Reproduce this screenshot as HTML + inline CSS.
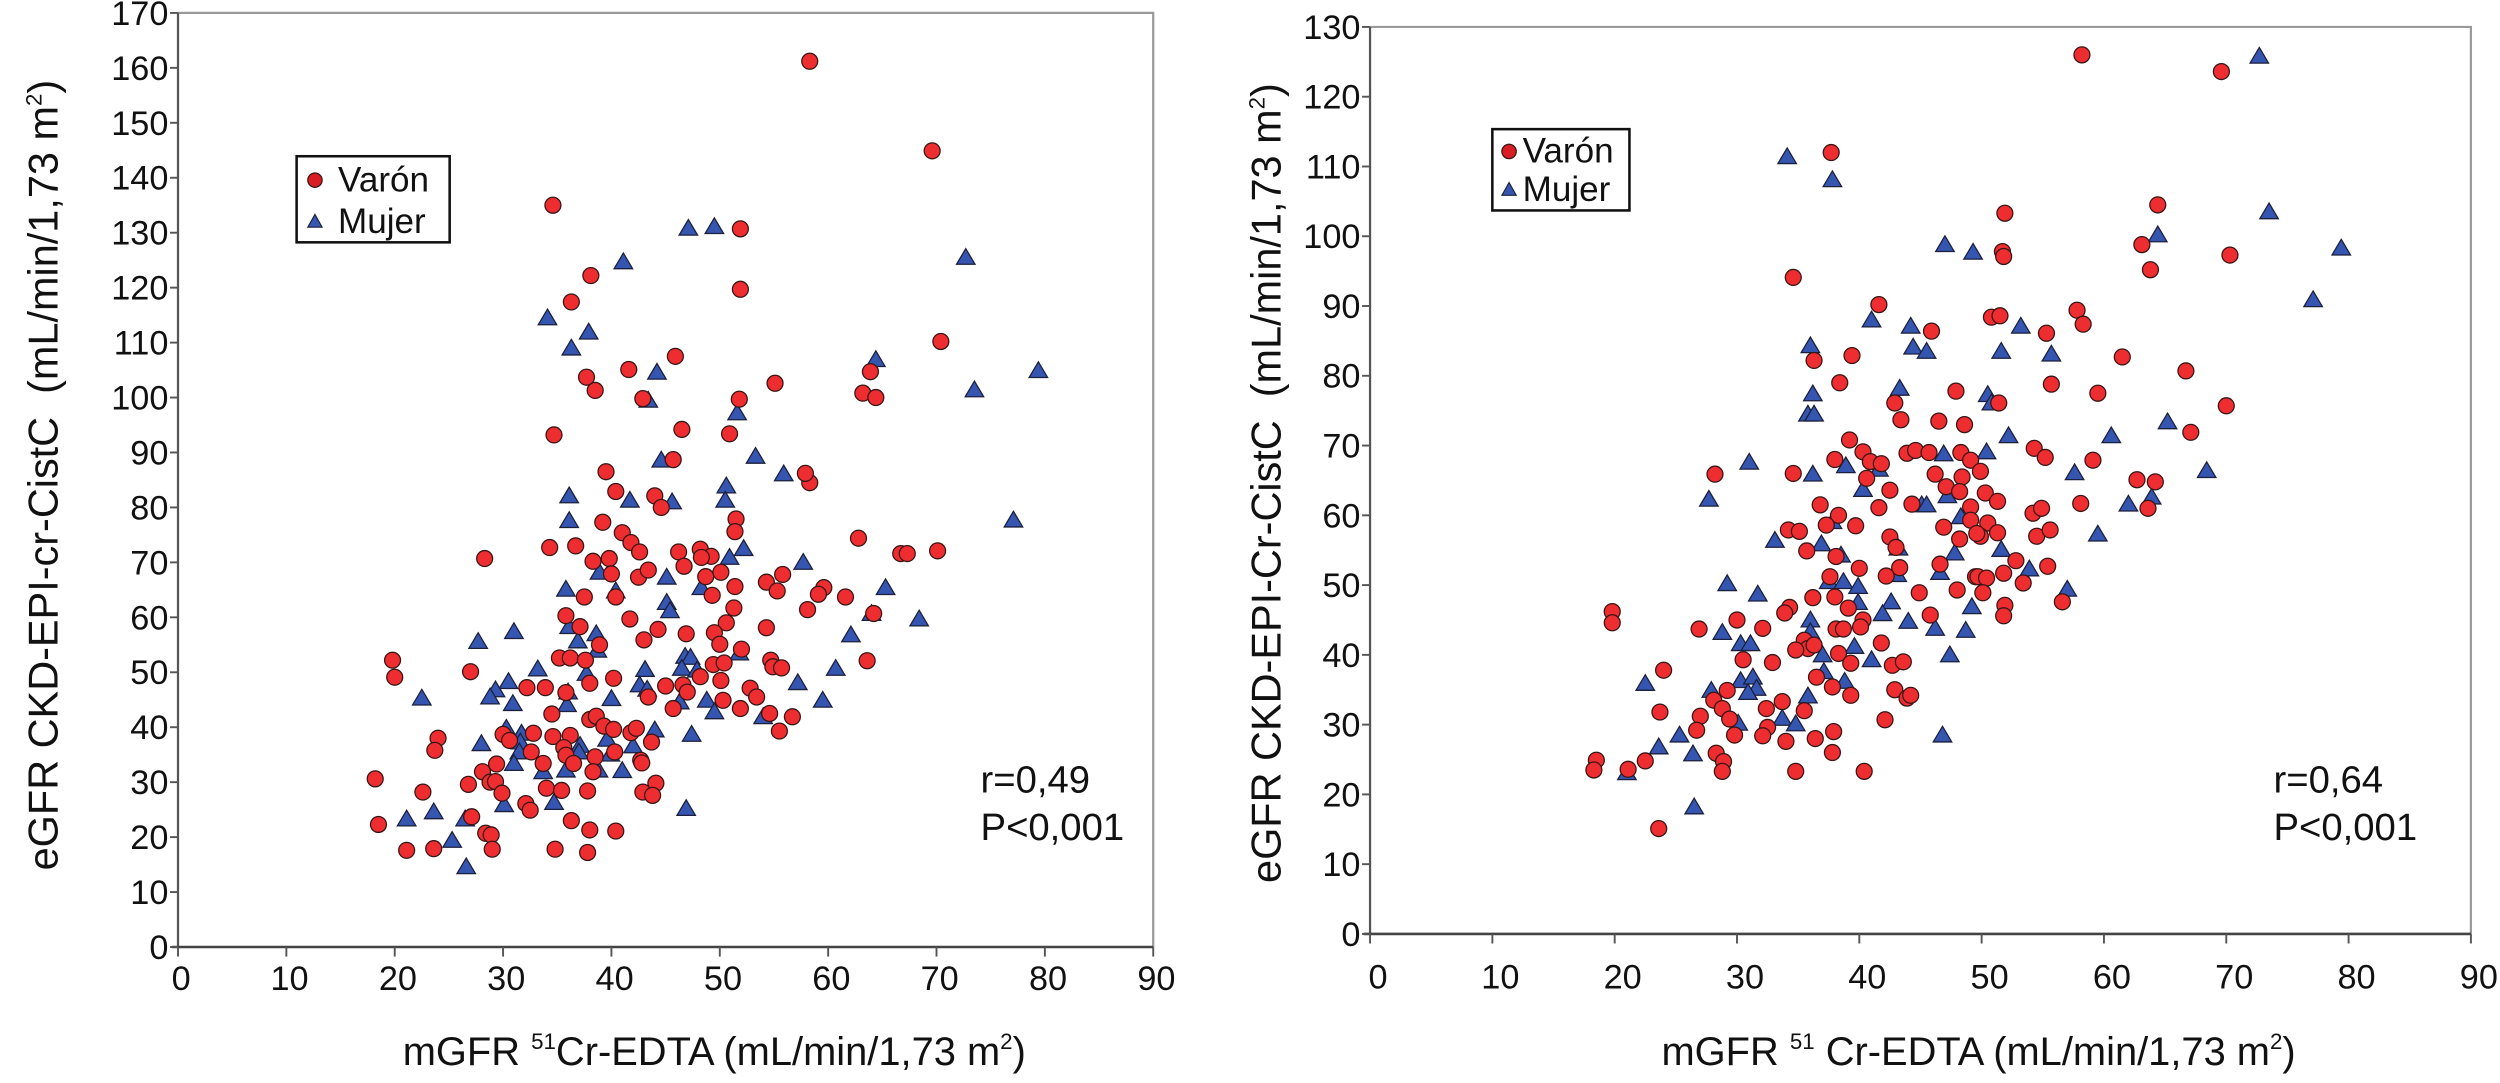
<!DOCTYPE html>
<html><head><meta charset="utf-8"><style>
html,body{margin:0;padding:0;background:#fff;}
svg{display:block;}
text{font-family:"Liberation Sans",sans-serif;fill:#111;}
</style></head><body>
<svg id="fig" width="2500" height="1083" viewBox="0 0 1568 679.3" xmlns="http://www.w3.org/2000/svg">
<rect x="0" y="0" width="1568" height="680" fill="#fff"/>
<g id="left"></g>
<g id="right"></g>
</svg>
<script>
const xTicks = [0,10,20,30,40,50,60,70,80,90];
const leftYTicks = [0,10,20,30,40,50,60,70,80,90,100,110,120,130,140,150,160,170];
const rightYTicks = [0,10,20,30,40,50,60,70,80,90,100,110,120,130];

const leftMenX = [34.6,51.9,38.1,51.9,36.3,45.9,41.6,37.7,38.5,42.9,51.8,55.1,34.7,46.5,50.9,45.7,58.3,69.6,70.4,63.9,63.2,64.4,
39.5,40.4,44.0,44.6,39.2,51.5,51.4,41.0,41.8,42.6,34.3,36.7,28.3,38.3,39.8,40.0,42.5,43.4,46.2,46.7,48.2,49.2,48.3,50.1,48.7,49.3,51.4,54.3,37.5,40.4,51.3,35.8,37.1,41.7,44.3,43.0,46.9,50.6,49.5,50.0,54.3,38.9,52.0,35.2,36.2,37.6,54.7,19.8,20.0,27.0,38.0,40.2,49.4,50.4,48.2,50.1,32.2,33.9,35.8,45.0,46.6,47.0,43.4,45.7,50.3,51.9,52.8,53.4,
34.5,38.0,38.6,39.3,40.2,41.8,42.3,43.7,32.8,30.0,30.6,34.6,36.2,35.6,32.6,35.8,36.5,38.5,40.3,42.7,42.8,38.3,33.7,24.0,23.7,29.4,28.1,28.8,29.3,29.9,26.8,18.2,22.6,34.0,35.4,37.8,44.1,42.9,43.8,32.1,32.5,27.1,18.5,36.3,38.0,40.4,28.4,28.9,29.0,21.1,23.6,34.8,37.8,
58.3,57.9,62.8,66.7,67.3,70.1,55.8,55.3,59.6,59.1,61.6,58.1,64.2,63.6,54.9,55.7,56.7,55.5,54.6];
const leftMenY = [135.0,130.7,122.2,119.7,117.4,107.5,105.1,103.7,101.3,99.8,99.7,102.6,93.2,94.2,93.4,88.7,161.2,144.9,110.2,104.7,100.8,100.0,
86.5,82.9,82.1,80.0,77.3,77.9,75.6,75.4,73.6,71.9,72.7,73.0,70.7,70.2,70.7,67.9,67.3,68.6,71.9,69.3,72.4,71.1,70.9,68.2,67.4,64.0,65.6,66.4,63.7,63.7,61.7,60.3,58.3,59.7,57.8,55.9,57.0,59.0,57.2,55.1,58.1,55.0,54.2,52.6,52.6,52.2,52.2,52.2,49.1,50.1,48.0,48.9,51.4,51.7,49.2,48.5,47.2,47.2,46.3,47.5,47.7,46.4,45.5,43.4,44.9,43.4,47.1,45.5,
42.4,41.4,42.0,40.2,39.6,39.0,39.8,37.3,38.9,38.7,37.6,38.3,38.5,36.3,35.5,34.9,33.4,34.6,35.5,34.0,33.5,31.9,33.4,38.0,35.8,33.3,31.9,30.0,30.1,28.0,29.6,30.6,28.2,28.9,28.5,28.4,29.8,28.2,27.6,26.1,24.9,23.7,22.3,23.0,21.3,21.1,20.7,20.4,17.8,17.6,17.9,17.8,17.2,
84.5,86.2,74.4,71.6,71.6,72.1,67.8,64.8,65.4,64.2,63.7,61.4,60.7,52.1,51.0,50.8,41.9,39.3,42.5];

const leftWomenX = [47.1,49.5,41.1,34.1,37.9,36.3,44.2,43.4,51.6,53.3,44.6,72.7,64.4,79.4,73.5,
36.1,41.7,45.6,50.6,50.5,36.1,52.2,50.9,38.9,45.1,48.3,35.8,40.4,45.1,45.4,36.1,36.9,38.6,38.7,31.0,27.7,51.8,46.8,47.3,46.5,47.9,33.2,37.7,43.1,30.5,29.3,28.8,30.9,22.5,36.0,35.9,42.6,43.3,40.0,46.3,48.8,49.5,54.0,30.3,31.7,31.6,31.5,28.0,31.0,33.7,35.8,37.1,37.0,39.6,39.9,38.8,41.0,42.0,44.0,47.4,30.1,34.7,46.9,23.6,21.1,26.5,25.3,26.6,
77.1,57.7,65.3,64.0,68.4,62.1,60.7,57.2,59.5,55.9];
const leftWomenY = [130.8,131.1,124.7,114.5,111.9,109.0,104.6,99.5,97.2,89.3,88.6,125.5,106.9,104.9,101.4,
82.1,81.3,81.0,83.9,81.3,77.6,72.5,70.9,68.2,67.3,65.4,65.1,64.8,62.7,61.2,58.3,55.7,57.0,54.0,57.4,55.6,53.5,52.9,52.7,50.7,50.4,50.6,49.8,50.5,48.3,46.8,45.5,44.3,45.3,46.4,44.1,47.7,46.9,45.2,44.6,44.9,42.8,41.9,39.8,38.9,37.3,35.5,37.0,33.4,31.9,32.2,36.7,35.5,37.8,35.1,32.2,32.1,36.6,39.5,38.7,25.9,26.3,25.2,24.6,23.3,23.3,19.4,14.6,
77.7,70.0,65.4,60.7,59.7,56.8,50.7,48.1,44.9,86.1];

const rightMenX = [37.7,34.6,41.6,45.9,39.4,36.3,38.4,47.9,42.9,43.4,46.5,48.6,
58.2,69.6,51.9,64.4,51.7,51.8,63.1,63.8,70.3,50.8,51.5,57.8,58.3,55.3,61.5,66.7,55.7,59.5,51.4,70.0,67.1,
39.2,28.2,34.6,38.0,40.3,40.9,41.8,43.9,44.6,45.7,48.3,49.1,40.6,42.5,46.2,48.4,47.1,48.2,36.8,41.6,44.3,38.3,49.1,49.1,34.2,35.1,37.3,39.7,46.9,48.2,42.5,43.0,35.7,38.1,40.0,43.3,42.2,46.6,49.5,37.6,38.0,36.2,44.9,48.0,34.3,33.9,39.1,40.3,40.1,45.8,19.8,19.8,26.9,30.0,32.1,38.1,38.7,35.5,35.8,34.8,36.3,41.8,30.5,32.9,38.3,39.3,42.7,43.6,24.0,36.5,37.8,39.3,42.9,43.9,44.2,29.2,28.1,28.8,23.7,27.0,26.7,29.4,29.8,32.4,33.7,35.5,32.5,32.1,34.0,36.4,37.9,37.8,42.1,28.3,28.9,28.8,22.5,18.5,18.3,21.1,34.8,40.4,23.6,
54.3,55.2,59.1,49.9,50.3,51.3,62.7,64.2,58.1,63.6,54.2,54.9,50.5,51.3,49.9,49.6,54.5,55.6,52.8,55.4,51.8,49.7,50.4,53.4,50.1,56.6,51.9,51.8];
const rightMenY = [112.0,94.1,90.2,86.4,82.9,82.2,79.0,77.8,76.1,73.7,73.5,73.0,
126.0,123.6,103.3,104.5,97.8,97.1,98.8,95.2,97.3,88.4,88.6,89.4,87.4,86.1,82.7,80.7,78.8,77.5,76.1,75.7,71.9,
70.8,65.9,66.0,68.0,69.1,67.7,67.4,68.9,69.3,69.0,69.0,67.9,65.3,63.6,65.9,65.5,64.1,63.4,61.5,61.1,61.6,60.0,61.2,59.3,57.9,57.7,58.6,58.5,58.3,56.6,56.9,55.4,54.9,54.1,52.4,52.5,51.3,53.0,51.2,51.2,48.3,48.2,48.9,49.3,46.8,46.0,46.7,45.0,44.0,45.7,46.2,44.6,43.7,45.0,43.8,43.7,43.7,42.1,40.9,40.7,41.4,41.7,39.3,38.9,40.2,38.8,38.5,39.0,37.8,36.8,35.4,34.2,35.0,33.8,34.2,34.9,33.5,32.3,31.8,31.2,29.2,30.8,28.5,32.3,33.3,32.0,29.6,28.4,27.6,28.0,29.0,26.0,30.7,25.9,24.7,23.3,24.8,24.9,23.5,23.6,23.3,23.3,15.1,
69.6,68.3,67.9,66.3,63.2,62.0,65.1,64.8,61.7,61.0,60.3,61.0,58.9,57.5,57.0,57.4,57.0,57.9,53.5,52.7,51.7,51.2,51.0,50.3,48.9,47.6,47.1,45.6];

const rightWomenX = [34.1,37.8,47.0,49.3,41.0,44.2,44.4,45.5,36.0,36.2,43.3,35.8,36.3,
72.7,73.5,79.4,77.1,64.4,53.2,51.6,55.7,50.5,50.8,65.2,52.2,60.6,
31.0,36.2,38.9,41.6,46.9,40.3,47.2,27.7,45.1,45.5,37.8,48.3,33.1,36.9,43.2,38.5,47.8,46.6,43.1,37.5,38.7,39.9,39.9,29.2,31.7,42.6,41.9,44.0,36.0,36.0,46.2,48.7,49.2,28.8,30.3,31.1,39.6,37.0,41.0,47.4,37.1,38.8,30.3,31.3,31.6,30.9,27.9,22.5,35.8,30.1,33.7,34.8,25.3,23.6,26.4,46.8,21.0,26.5,
50.4,57.6,68.4,63.9,62.0,59.5,51.6,53.9,57.0];
const rightWomenY = [111.4,108.1,98.8,97.7,88.0,87.1,84.1,83.5,84.3,77.4,78.2,74.5,74.5,
125.8,103.5,98.3,90.9,100.2,87.1,83.5,83.1,77.3,76.1,73.4,71.4,71.4,
67.6,65.9,67.1,66.6,68.8,63.7,62.8,62.3,61.5,61.5,59.1,59.8,56.4,55.9,55.3,54.3,54.6,51.8,51.5,50.5,50.5,49.8,47.5,50.2,48.7,47.6,45.9,44.8,45.0,43.3,43.8,43.5,46.9,43.2,41.6,41.6,41.2,40.0,39.3,40.0,37.6,36.2,36.3,36.8,35.2,34.6,34.9,35.9,34.1,30.2,30.9,30.1,28.5,26.8,25.8,28.5,23.1,18.2,
69.1,66.1,66.4,62.6,61.6,57.3,55.1,52.3,49.4];

const NS = "http://www.w3.org/2000/svg";
function mk(parent, tag, attrs, txt){
  const e = document.createElementNS(NS, tag);
  for (const k in attrs) e.setAttribute(k, attrs[k]);
  if (txt !== undefined) e.textContent = txt;
  parent.appendChild(e);
  return e;
}

function drawChart(g, cfg){
  const xs = v => cfg.x0 + (v - 0) * (cfg.x1 - cfg.x0) / 90;
  const ys = v => cfg.y0 - v * (cfg.y0 - cfg.yTop) / cfg.yMax;
  const fr = mk(g, 'path', {d:`M${cfg.x0},${cfg.yTop} H${cfg.x1} V${cfg.y0}`, fill:'none', stroke:'#9a9a9a', 'stroke-width':1.4});
  
  
  const ya = mk(g, 'line', {x1:cfg.x0, y1:cfg.yTop, x2:cfg.x0, y2:cfg.y0, stroke:'#555', 'stroke-width':1.4});
  
  
  const xa = mk(g, 'line', {x1:cfg.x0-4, y1:cfg.y0, x2:cfg.x1, y2:cfg.y0, stroke:'#444', 'stroke-width':1.6});
  
  
  cfg.yTicks.forEach(t => {
    const y = ys(t);
    const tk = mk(g, 'line', {x1:cfg.x0-5, y1:y, x2:cfg.x0, y2:y, stroke:'#555', 'stroke-width':1.2});
    
    
    const lb = mk(g, 'text', {x:cfg.x0-6, y:y+7.5, 'text-anchor':'end', 'font-size':21.5}, String(t));
    
    
  });
  xTicks.forEach(t => {
    const x = xs(t);
    const tk = mk(g, 'line', {x1:x, y1:cfg.y0, x2:x, y2:cfg.y0+6, stroke:'#555', 'stroke-width':1.2});
    
    
    const lb = mk(g, 'text', {x:x+cfg.xlOff, y:cfg.xLabY, 'text-anchor':'middle', 'font-size':21.5}, String(t));
    
    
  });
  cfg.wx.forEach((v,i) => {
    const x = xs(v), y = ys(cfg.wy[i]);
    const p = mk(g, 'path', {d:`M${x},${y-5.5} L${x+5.8},${y+4.3} L${x-5.8},${y+4.3} Z`, fill:'#3556b0', stroke:'#1c1f3c', 'stroke-width':0.8});
    
    
  });
  cfg.mx.forEach((v,i) => {
    const c = mk(g, 'circle', {cx:xs(v), cy:ys(cfg.my[i]), r:5, fill:'#ee2d30', stroke:'#3a1515', 'stroke-width':0.8});
    
    
  });
}

const L = document.getElementById('left');
drawChart(L, {x0:111.6, x1:723.3, y0:594, yTop:8.1, yMax:170, yTicks:leftYTicks, xLabY:621, xlOff:2,
  mx:leftMenX, my:leftMenY, wx:leftWomenX, wy:leftWomenY});
const R = document.getElementById('right');
drawChart(R, {x0:859.3, x1:1549.8, y0:585.8, yTop:16.9, yMax:130, yTicks:rightYTicks, xLabY:620, xlOff:5,
  mx:rightMenX, my:rightMenY, wx:rightWomenX, wy:rightWomenY});
</script>
<script>
(function(){
const NS="http://www.w3.org/2000/svg";
const svg=document.getElementById('fig');
function t(x,y,s,size,name,extra){
  const e=document.createElementNS(NS,'text');
  e.setAttribute('x',x);e.setAttribute('y',y);e.setAttribute('font-size',size);
  if(extra) for(const k in extra) e.setAttribute(k,extra[k]);
  e.innerHTML=s;
  
  
  svg.appendChild(e);return e;
}
t(448,668,'mGFR <tspan font-size="14" dy="-10">51</tspan><tspan dy="10">Cr-EDTA (mL/min/1,73 m</tspan><tspan font-size="14" dy="-10">2</tspan><tspan dy="10">)</tspan>',25,'x-axis-title',{'text-anchor':'middle'});
t(1241,668,'mGFR <tspan font-size="14" dy="-10">51</tspan><tspan dy="10"> Cr-EDTA (mL/min/1,73 m</tspan><tspan font-size="14" dy="-10">2</tspan><tspan dy="10">)</tspan>',25,'x-axis-title',{'text-anchor':'middle'});
t(0,0,'eGFR CKD-EPI-cr-CistC&#160;&#160;(mL/min/1,73 m<tspan font-size="14" dy="-10">2</tspan><tspan dy="10">)</tspan>',26,'y-axis-title',{'text-anchor':'middle','transform':'translate(36,298) rotate(-90)'});
t(0,0,'eGFR CKD-EPI-Cr-CistC&#160;&#160;(mL/min/1,73 m<tspan font-size="14" dy="-10">2</tspan><tspan dy="10">)</tspan>',26,'y-axis-title',{'text-anchor':'middle','transform':'translate(803,303) rotate(-90)'});
t(615,497,'r=0,49',24,'correlation-label');
t(615,527,'P&lt;0,001',24,'p-value-label');
t(1426,497,'r=0,64',24,'correlation-label');
t(1426,527,'P&lt;0,001',24,'p-value-label');
function legend(x,y,w,h,cx,ty1,ty2,tx){
  const g=document.createElementNS(NS,'g');
  
  
  svg.appendChild(g);
  const r=document.createElementNS(NS,'rect');
  r.setAttribute('x',x);r.setAttribute('y',y);r.setAttribute('width',w);r.setAttribute('height',h);
  r.setAttribute('fill','#fff');r.setAttribute('stroke','#111');r.setAttribute('stroke-width',1.6);
  g.appendChild(r);
  const c=document.createElementNS(NS,'circle');
  c.setAttribute('cx',cx);c.setAttribute('cy',ty1-7);c.setAttribute('r',4.5);
  c.setAttribute('fill','#d81e22');c.setAttribute('stroke','#3a1515');c.setAttribute('stroke-width',0.8);
  
  
  g.appendChild(c);
  const p=document.createElementNS(NS,'path');
  const yy=ty2-7;
  p.setAttribute('d',`M${cx},${yy-4.5} L${cx+4.5},${yy+3.5} L${cx-4.5},${yy+3.5} Z`);
  p.setAttribute('fill','#3556b0');p.setAttribute('stroke','#1c1f3c');p.setAttribute('stroke-width',0.7);
  
  
  g.appendChild(p);
  [['Varón',ty1,'legend-entry-varon'],['Mujer',ty2,'legend-entry-mujer']].forEach(a=>{
    const e=document.createElementNS(NS,'text');
    e.setAttribute('x',tx);e.setAttribute('y',a[1]);e.setAttribute('font-size',22);
    e.textContent=a[0];
    
    
    g.appendChild(e);
  });
}
legend(186,98,96,54,197.5,120,146,212);
legend(936,81,86,51,946.5,102,126,955);
})();
</script>
</body></html>
